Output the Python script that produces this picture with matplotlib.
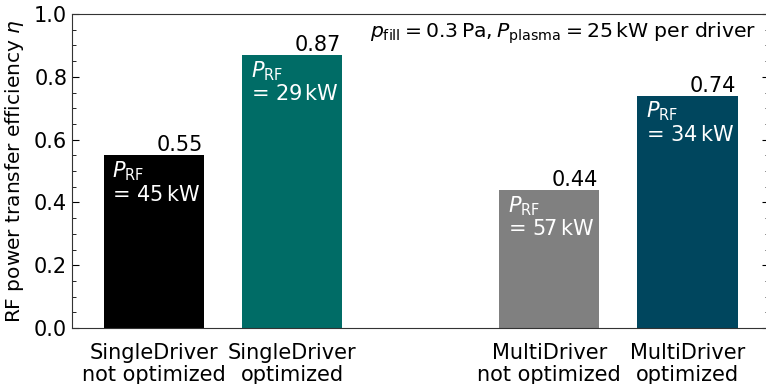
import matplotlib
matplotlib.use("Agg")
import matplotlib.pyplot as plt
from matplotlib.ticker import MultipleLocator

plt.rcParams["font.family"] = "DejaVu Sans"
plt.rcParams["mathtext.fontset"] = "dejavusans"

categories = ["SingleDriver\nnot optimized", "SingleDriver\noptimized",
              "MultiDriver\nnot optimized", "MultiDriver\noptimized"]
efficiency = [0.55, 0.87, 0.44, 0.74]
p_rf_kw = [45, 29, 57, 34]
colors = ["#000000", "#006c66", "#808080", "#00465e"]
positions = [0, 1, 2.86, 3.86]

FS = 15

fig = plt.figure(figsize=(7.66, 3.84), dpi=100)
ax = fig.add_axes([72 / 766, 56 / 384, 697 / 766, 314 / 384])

bars = ax.bar(positions, efficiency, width=0.725, color=colors)

for bar, eta, p in zip(bars, efficiency, p_rf_kw):
    # value above the bar, right aligned
    ax.annotate(f"{eta:.2f}", xy=(bar.get_x() + bar.get_width(), eta),
                xytext=(-1, 0), textcoords="offset points",
                ha="right", va="bottom", fontsize=FS)
    # RF power inside the bar
    ax.annotate(f"$P_\\mathrm{{RF}}$\n= {p}$\\,$kW",
                xy=(bar.get_x(), eta), xytext=(6, -3), textcoords="offset points",
                ha="left", va="top", fontsize=FS, color="white", linespacing=1.1)

ax.text(0.981, 0.939,
        r"$p_\mathrm{fill} = 0.3\,\mathrm{Pa}, P_\mathrm{plasma} = 25\,\mathrm{kW}$ per driver",
        transform=ax.transAxes, ha="right", va="center", fontsize=14.7)

ax.set_xticks(positions)
ax.set_xticklabels(categories, fontsize=FS, linespacing=1.12)
ax.set_xlim(-0.594, 4.45)
ax.set_ylim(0, 1.0)
ax.set_ylabel(r"RF power transfer efficiency $\eta$", fontsize=14.5, labelpad=6)
ax.yaxis.set_major_locator(MultipleLocator(0.2))
ax.yaxis.set_minor_locator(MultipleLocator(0.05))
ax.tick_params(axis="y", which="both", direction="in", left=True, right=True, labelsize=FS)
ax.tick_params(axis="y", which="major", length=5)
ax.tick_params(axis="y", which="minor", length=3)
ax.tick_params(axis="x", which="both", length=0, pad=11)
for s in ax.spines.values():
    s.set_color("#333333")

fig.savefig("out.png", dpi=100)
